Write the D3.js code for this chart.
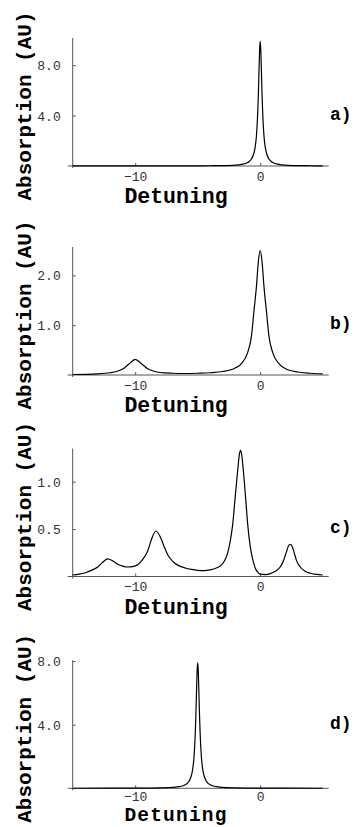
<!DOCTYPE html>
<html>
<head>
<meta charset="utf-8">
<script src="https://cdn.jsdelivr.net/npm/d3@7"></script>
<style>
body{margin:0;background:#fff;}
svg{display:block;}
</style>
</head>
<body>
<svg id="chart"></svg>
<script>
// values
var xTicks=[-10,0];
var panelLabels=['a)','b)','c)','d)'];
var yTicksA=[4,8], yTicksB=[1,2], yTicksC=[0.5,1], yTicksD=[4,8];

var detuningA=[-15,-12,-10,-8,-6,-4,-3,-2,-1.5,-1,-0.7,-0.5,-0.4,-0.3,-0.2,-0.15,-0.1,-0.05,0,0.05,0.1,0.15,0.2,0.3,0.4,0.5,0.7,1,1.5,2,3,4,5];
var absorptionA=[0.01,0.01,0.01,0.01,0.01,0.02,0.03,0.07,0.13,0.28,0.55,1.03,1.52,2.4,4.2,5.6,7.4,9.1,9.9,9.1,7.4,5.6,4.2,2.4,1.52,1.03,0.55,0.28,0.13,0.07,0.03,0.02,0.01];

var detuningB=[-15,-13,-12,-11.5,-11,-10.5,-10,-9.5,-9,-8.5,-8,-7,-6,-5,-4,-3,-2,-1.5,-1,-0.7,-0.5,-0.3,-0.15,0,0.15,0.3,0.5,0.7,1,1.5,2,3,4,5];
var absorptionB=[0.01,0.023,0.045,0.07,0.12,0.22,0.315,0.225,0.125,0.075,0.05,0.035,0.03,0.035,0.045,0.07,0.14,0.23,0.455,0.78,1.28,1.78,2.27,2.5,2.27,1.78,1.28,0.78,0.45,0.23,0.13,0.06,0.035,0.023];

var detuningC=[-15,-14.5,-14,-13.5,-13,-12.6,-12.2,-11.8,-11.4,-11,-10.6,-10.2,-9.8,-9.4,-9,-8.7,-8.35,-8,-7.7,-7.4,-7,-6.6,-6,-5.5,-5,-4.5,-4,-3.6,-3.2,-2.9,-2.6,-2.4,-2.2,-2,-1.8,-1.65,-1.57,-1.5,-1.35,-1.15,-1,-0.8,-0.6,-0.4,-0.2,0,0.4,0.8,1.2,1.6,1.9,2.1,2.25,2.4,2.55,2.7,2.9,3.2,3.6,4,4.5,5];
var absorptionC=[0.016,0.025,0.04,0.065,0.1,0.15,0.185,0.165,0.13,0.11,0.1,0.105,0.125,0.18,0.27,0.39,0.48,0.42,0.32,0.23,0.16,0.12,0.09,0.075,0.065,0.062,0.07,0.085,0.11,0.155,0.25,0.37,0.55,0.84,1.12,1.3,1.33,1.3,1.12,0.8,0.55,0.32,0.18,0.09,0.045,0.025,0.02,0.03,0.055,0.1,0.18,0.26,0.32,0.34,0.32,0.26,0.17,0.1,0.055,0.034,0.022,0.016];

var detuningD=[-15,-12,-10,-9,-8,-7,-6.5,-6,-5.7,-5.5,-5.4,-5.3,-5.2,-5.15,-5.1,-5.05,-5,-4.95,-4.9,-4.85,-4.8,-4.7,-4.6,-4.5,-4.3,-4,-3.5,-3,-2,-1,0,2,5];
var absorptionD=[0.002,0.005,0.009,0.014,0.025,0.057,0.1,0.22,0.44,0.82,1.21,1.92,3.35,4.5,5.9,7.3,7.9,7.3,5.9,4.5,3.35,1.92,1.21,0.82,0.44,0.22,0.1,0.057,0.025,0.014,0.009,0.005,0.002];

// layout of the four stacked panels
var panels=[
    {x:detuningA, y:absorptionA, ticks:yTicksA, axisY:166,   yMax:10.15},
    {x:detuningB, y:absorptionB, ticks:yTicksB, axisY:375,   yMax:2.57},
    {x:detuningC, y:absorptionC, ticks:yTicksC, axisY:576.5, yMax:1.35},
    {x:detuningD, y:absorptionD, ticks:yTicksD, axisY:788.3, yMax:8.05}
];

var svgWidth=354, svgHeight=827, plotHeight=128;
var mono='"Liberation Mono","Courier New",Courier,monospace';

var svg=d3.select('#chart')
    .attr('width',svgWidth)
    .attr('height',svgHeight);

var x=d3.scaleLinear().domain([-15,5]).range([72.7,322.7]);

function fmtX(d){
    return d<0 ? '\u2212'+Math.abs(d) : ''+d;
}

function drawPanel(p,i){
    var y=d3.scaleLinear().domain([0,p.yMax]).range([p.axisY,p.axisY-plotHeight]);
    var g=svg.append('g');
    var last=(i==panels.length-1);

    // axis lines, x axis runs a little past both ends
    g.append('line')
        .attr('x1',x.range()[0]-5).attr('x2',x.range()[1]+6)
        .attr('y1',p.axisY).attr('y2',p.axisY)
        .attr('stroke','#555').attr('stroke-width',1);
    g.append('line')
        .attr('x1',x(-15)).attr('x2',x(-15))
        .attr('y1',p.axisY+2).attr('y2',y(p.yMax))
        .attr('stroke','#555').attr('stroke-width',1);

    var xa=g.append('g')
        .attr('transform','translate(0,'+p.axisY+')')
        .call(d3.axisBottom(x).tickValues(xTicks).tickSize(-3).tickPadding(0).tickFormat(fmtX));
    xa.select('.domain').remove();
    xa.selectAll('line').attr('stroke','#555');
    xa.selectAll('text')
        .attr('y',last ? 12.5 : 14.5).attr('dy',null)
        .attr('fill','#333')
        .style('font-family',mono).style('font-size','13px');

    var ya=g.append('g')
        .attr('transform','translate('+x(-15)+',0)')
        .call(d3.axisLeft(y).tickValues(p.ticks).tickSize(-3).tickFormat(d3.format('.1f')));
    ya.select('.domain').remove();
    ya.selectAll('line').attr('stroke','#555');
    ya.selectAll('text')
        .attr('x',-12).attr('dy','0.35em')
        .attr('fill','#333')
        .style('font-family',mono).style('font-size','13px');

    var line=d3.line()
        .x(function(d){ return x(d[0]); })
        .y(function(d){ return y(d[1]); })
        .curve(d3.curveMonotoneX);
    g.append('path')
        .datum(d3.zip(p.x,p.y))
        .attr('d',line)
        .attr('fill','none')
        .attr('stroke','#000')
        .attr('stroke-width',1.2);

    // the last "Detuning" sits at the page bottom, so a bit smaller and spaced out
    g.append('text')
        .text('Detuning')
        .attr('x',176).attr('y',last ? svgHeight-6 : p.axisY+37)
        .attr('text-anchor','middle')
        .style('font-family',mono).style('font-weight','bold')
        .style('font-size',last ? '19.5px' : '21.5px')
        .style('letter-spacing',last ? '1.2px' : null);

    g.append('text')
        .text('Absorption (AU)')
        .attr('transform','translate(31,'+(p.axisY-60)+') rotate(-90)')
        .attr('text-anchor','middle')
        .style('font-family',mono).style('font-weight','bold').style('font-size','21px');

    g.append('text')
        .text(panelLabels[i])
        .attr('x',330).attr('y',y(p.ticks[0])+4)
        .style('font-family',mono).style('font-weight','bold').style('font-size','18px');
}

for(var i=0;i<panels.length;i+=1){
    drawPanel(panels[i],i);
}
</script>
</body>
</html>
